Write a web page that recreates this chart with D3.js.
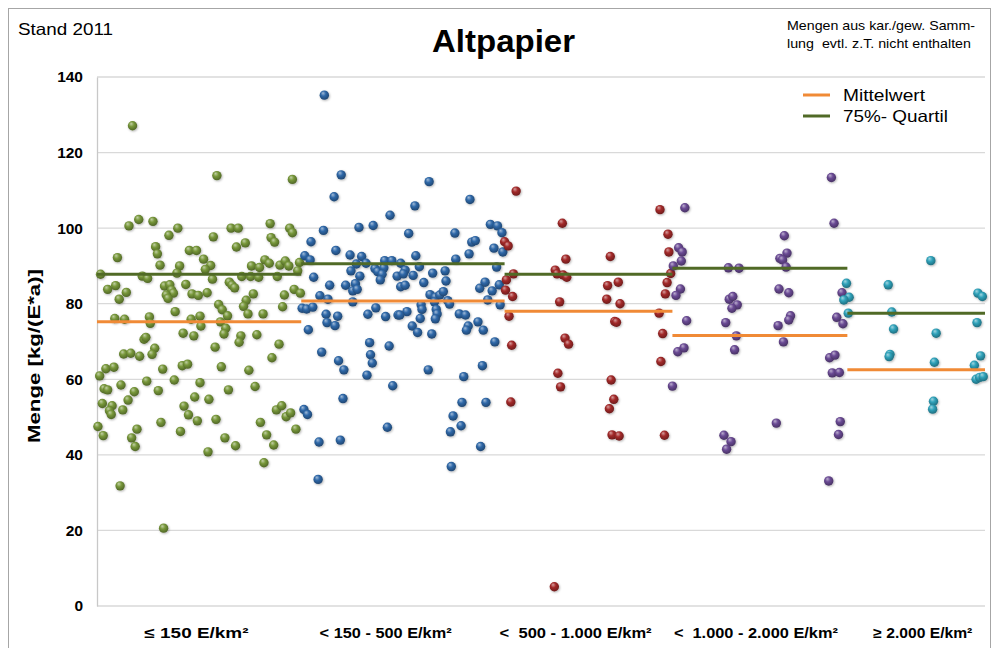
<!DOCTYPE html>
<html>
<head>
<meta charset="utf-8">
<script src="https://cdn.jsdelivr.net/npm/d3@7"></script>
<style>
  html, body { margin: 0; padding: 0; background: #fff; }
  svg { display: block; font-family: "Liberation Sans", Arial, sans-serif; }
  text { white-space: pre; }
</style>
</head>
<body>
<svg id="chart" width="993" height="648"></svg>
<script>
// Density classes (x positions on a 0–100 relative axis)
const classLabels = ["\u2264 150 E/km\u00b2", "< 150 - 500 E/km\u00b2", "<  500 - 1.000 E/km\u00b2", "<  1.000 - 2.000 E/km\u00b2", "\u2265 2.000 E/km\u00b2"];
const classLabelPos = [11.2, 32.5, 53.9, 74.2, 93.0];
const classBounds = [0, 23.0, 45.9, 64.8, 84.5, 100];

// Per-municipality values [position, kg/(E*a)]
const class1 = [
  [4.0,127.1],[3.6,100.6],[4.7,102.3],[6.3,101.8],[8.1,98.1],[9.1,100.0],[2.3,92.2],[6.6,95.1],[6.8,93.2],
  [10.4,94.1],[11.2,94.1],[7.1,90.2],[9.3,90.0],[9.0,88.1],[0.4,87.8],[5.1,87.3],[5.7,86.7],[1.2,83.8],
  [2.1,84.8],[3.3,83.0],[2.5,81.2],[7.6,84.7],[8.2,85.0],[8.4,83.6],[8.6,82.8],[7.8,82.3],[8.0,81.4],
  [10.0,85.1],[10.7,82.6],[11.4,82.2],[2.0,76.1],[3.1,75.9],[5.9,76.5],[6.0,74.8],[8.8,77.9],[10.6,75.9],
  [11.6,76.7],[11.7,74.1],[9.7,72.2],[10.9,71.5],[5.3,70.6],[5.5,71.1],[6.5,68.2],[6.2,66.6],[3.0,66.7],
  [3.8,66.9],[4.8,66.1],[1.0,62.8],[1.9,63.2],[0.3,60.9],[7.4,62.7],[9.6,63.6],[10.2,64.0],[5.6,59.5],
  [8.7,59.8],[11.6,59.1],[0.8,57.5],[1.2,57.2],[2.7,58.5],[4.2,56.7],[6.9,57.0],[11.0,55.3],[0.6,53.6],
  [1.7,53.0],[3.5,54.5],[1.4,51.7],[1.6,50.7],[2.9,51.9],[9.8,52.9],[10.3,50.6],[11.3,49.0],[0.1,47.5],
  [0.7,45.1],[4.5,46.8],[3.9,44.5],[4.3,42.2],[7.2,48.6],[9.4,46.2],[2.6,31.8],[7.5,20.6],
  [13.5,113.9],[22.0,112.9],[15.1,100.0],[15.9,100.0],[19.5,101.2],[21.7,100.0],[22.0,98.8],[13.1,97.7],
  [19.6,97.5],[20.0,96.3],[15.7,95.0],[16.7,96.1],[12.0,91.8],[12.8,90.1],[12.2,89.1],[18.9,91.6],
  [19.4,90.7],[17.4,90.0],[18.3,89.6],[20.6,90.2],[21.2,91.3],[21.6,90.0],[22.8,90.9],[22.6,88.7],
  [16.3,87.2],[17.3,87.2],[18.2,87.0],[20.3,87.2],[13.0,86.5],[14.9,85.7],[15.2,84.9],[15.5,84.2],
  [12.4,82.9],[17.6,82.6],[21.1,82.3],[22.2,83.8],[22.9,82.8],[13.7,79.8],[14.1,78.4],[14.7,76.8],
  [16.8,80.9],[16.5,79.3],[17.0,77.3],[20.9,79.2],[18.7,77.3],[13.9,75.2],[14.5,73.5],[14.3,72.0],
  [16.2,71.5],[16.0,69.8],[18.0,71.8],[13.3,68.5],[20.5,69.3],[19.7,65.7],[14.0,63.3],[17.1,62.4],
  [14.8,57.2],[17.8,58.1],[12.6,54.7],[20.2,51.9],[20.8,53.0],[21.3,50.1],[21.8,51.1],[22.4,46.8],
  [13.4,49.4],[18.4,48.6],[14.4,44.5],[15.6,42.4],[19.1,45.3],[19.9,42.6],[12.5,40.8],[18.8,37.9]
];
const class2 = [
  [25.6,135.2],[27.5,114.1],[26.7,108.3],[33.0,103.4],[25.5,99.4],[29.5,100.2],[31.1,100.7],[24.1,96.4],
  [23.4,92.7],[24.0,91.6],[26.9,94.1],[28.5,92.9],[29.8,92.5],[30.3,90.7],[29.2,90.5],[28.6,88.7],
  [29.6,87.3],[24.4,87.0],[26.2,84.9],[28.0,84.9],[29.1,85.3],[28.8,83.4],[29.3,83.8],[31.3,89.3],
  [31.6,88.5],[32.3,89.5],[32.1,87.8],[31.9,86.3],[32.4,91.4],[33.2,91.4],[34.2,90.7],[33.8,87.3],
  [34.2,84.5],[34.7,88.9],[34.7,84.9],[25.1,82.1],[26.0,81.2],[28.8,80.5],[23.1,78.8],[23.6,78.6],
  [24.3,79.1],[25.8,77.2],[27.1,76.7],[30.5,77.2],[31.4,78.9],[32.5,76.6],[33.9,77.0],[25.9,75.0],
  [26.8,74.2],[23.8,73.1],[25.3,67.2],[27.2,64.9],[27.8,62.5],[30.7,69.7],[30.8,66.5],[31.0,64.3],
  [30.4,61.1],[32.9,68.8],[33.3,58.3],[27.7,54.9],[23.3,52.0],[23.7,50.7],[32.7,47.3],[25.0,43.4],
  [27.4,43.9],[24.9,33.5],
  [37.4,112.3],[35.8,105.9],[42.0,107.6],[35.1,98.6],[40.3,98.7],[44.3,101.0],[45.1,100.6],[45.6,98.8],
  [42.2,96.3],[42.6,96.7],[44.7,94.7],[45.7,93.7],[41.9,93.2],[35.9,92.7],[40.4,91.8],[36.3,89.8],
  [45.0,89.7],[34.5,87.9],[35.6,87.5],[37.8,88.1],[39.2,88.7],[39.3,86.0],[36.8,85.6],[37.5,82.4],
  [38.1,81.7],[38.6,82.3],[39.0,83.2],[38.0,80.5],[39.5,80.8],[39.7,79.9],[43.1,84.1],[43.7,85.7],
  [44.5,83.4],[45.3,85.0],[44.0,81.0],[45.4,79.7],[34.9,77.9],[34.1,77.0],[36.5,79.7],[36.6,78.5],
  [38.2,78.5],[38.3,77.3],[36.4,76.1],[38.1,76.0],[40.8,77.3],[41.5,77.0],[35.5,74.1],[36.1,72.4],
  [37.7,72.0],[41.8,74.1],[41.6,73.0],[42.9,75.2],[43.5,73.0],[44.8,69.9],[37.3,62.5],[43.4,63.6],
  [41.3,60.7],[41.1,53.9],[43.8,53.9],[40.1,50.3],[41.0,47.7],[39.8,46.1],[43.2,42.2],[39.9,36.9]
];
const class3 = [
  [47.2,109.8],[63.4,104.9],[52.4,101.3],[64.3,98.4],[45.9,96.4],[46.3,95.3],[46.1,86.3],[46.9,87.9],
  [46.0,83.6],[46.8,81.9],[46.4,76.7],[52.8,91.8],[57.8,92.5],[64.4,93.7],[51.6,88.9],[51.8,87.9],
  [52.5,87.6],[52.9,87.0],[64.6,88.0],[57.5,84.8],[58.7,85.7],[64.2,85.6],[64.0,82.6],[52.1,80.5],
  [57.4,81.2],[58.9,80.0],[63.3,77.5],[58.3,75.3],[58.5,75.1],[63.7,72.1],[52.7,70.9],[53.1,69.3],
  [46.7,69.0],[63.5,64.7],[51.9,61.6],[52.2,58.0],[57.9,59.8],[46.6,54.0],[58.2,54.7],[57.7,52.2],
  [58.0,45.3],[58.8,45.0],[63.9,45.2],[51.5,5.1]
];
const class4 = [
  [66.2,105.4],[82.7,113.4],[83.0,101.3],[77.4,98.0],[65.5,94.8],[65.9,93.7],[77.7,93.4],[76.9,92.0],
  [77.2,91.6],[65.8,91.3],[64.9,90.0],[71.1,89.5],[72.3,89.4],[77.6,89.7],[65.7,83.9],[65.2,82.2],
  [76.8,83.9],[77.9,82.9],[71.2,81.2],[71.6,81.9],[72.1,79.7],[71.5,78.8],[83.9,82.9],[84.0,74.7],
  [83.3,76.4],[66.4,75.5],[70.8,75.0],[78.1,76.8],[77.9,75.7],[76.7,74.2],[72.0,71.5],[77.3,69.9],
  [65.4,67.3],[66.1,68.3],[71.8,67.8],[82.5,65.7],[83.1,66.4],[82.8,61.7],[83.6,61.8],[64.8,58.2],
  [76.5,48.4],[83.7,48.8],[83.5,45.4],[70.6,45.2],[71.4,43.5],[70.9,41.5],[82.4,33.1]
];
const class5 = [
  [93.9,91.4],[89.1,85.0],[84.4,85.4],[84.7,81.7],[84.1,81.0],[99.2,82.8],[99.7,81.9],[84.6,77.5],
  [89.5,77.8],[89.7,73.3],[94.5,72.2],[99.1,75.0],[89.3,66.6],[89.2,66.0],[94.3,64.5],[99.5,66.2],
  [98.8,63.7],[99.0,60.0],[99.4,60.5],[99.8,60.7],[94.2,54.2],[94.1,52.1]
];

// Class statistics
const meanValues = [75.2, 80.7, 78.0, 71.6, 62.5];
const quartile75Values = [87.8, 90.6, 87.8, 89.4, 77.5];

const yTicks = [0, 20, 40, 60, 80, 100, 120, 140];
const classColors = ["#77973a", "#2f68a8", "#a32a2a", "#6a4a94", "#2fa2ba"];
const meanColor = "#f08a36";
const quartileColor = "#506a26";

const svg = d3.select("#chart");
const plot = { left: 97, right: 985, top: 77, bottom: 606 };

const x = d3.scaleLinear().domain([0, 100]).range([plot.left, plot.right]);
const y = d3.scaleLinear().domain([0, 140]).range([plot.bottom, plot.top]);

// Outer frame
svg.append("rect")
  .attr("x", 8.5).attr("y", 8.5).attr("width", 982).attr("height", 650)
  .attr("fill", "#fff").attr("stroke", "#a6a6a6").attr("stroke-width", 1);

// Sphere-like gradients for markers
const defs = svg.append("defs");
classColors.forEach((c, i) => {
  const g = defs.append("radialGradient").attr("id", "ball" + i)
    .attr("cx", "45%").attr("cy", "40%").attr("r", "60%").attr("fx", "35%").attr("fy", "28%");
  g.append("stop").attr("offset", "0%").attr("stop-color", d3.interpolateRgb(c, "#fff")(0.55));
  g.append("stop").attr("offset", "45%").attr("stop-color", c);
  g.append("stop").attr("offset", "100%").attr("stop-color", d3.color(c).darker(1.1));
});
const shadow = defs.append("filter").attr("id", "shadow").attr("x", "-50%").attr("y", "-50%").attr("width", "200%").attr("height", "200%");
shadow.append("feDropShadow").attr("dx", 0.8).attr("dy", 1).attr("stdDeviation", 0.8).attr("flood-color", "#000").attr("flood-opacity", 0.3);

// Gridlines
svg.append("g").selectAll("line").data(yTicks).join("line")
  .attr("x1", plot.left).attr("x2", plot.right)
  .attr("y1", d => y(d)).attr("y2", d => y(d))
  .attr("stroke", "#d9d9d9").attr("stroke-width", 1.3);

// Y axis
const yAxis = d3.axisLeft(y).tickValues(yTicks).tickSize(0).tickPadding(14);
const ya = svg.append("g").attr("transform", `translate(${plot.left},0)`).call(yAxis);
ya.select(".domain").attr("stroke", "#c8c8c8").attr("stroke-width", 1.3);
ya.selectAll("text").attr("font-size", 15.5).attr("font-weight", "bold").attr("fill", "#000")
  .attr("font-family", "Liberation Sans, Arial, sans-serif");

// Y axis title
svg.append("text")
  .attr("transform", `translate(40,356) rotate(-90)`)
  .attr("text-anchor", "middle")
  .attr("font-size", 16).attr("font-weight", "bold")
  .attr("textLength", 174).attr("lengthAdjust", "spacingAndGlyphs")
  .text("Menge [kg/(E*a)]");

// Class labels
const classLabelWidths = [104, 132, 152, 164, 99];
svg.append("g").selectAll("text").data(classLabels).join("text")
  .attr("x", (d, i) => x(classLabelPos[i]))
  .attr("y", 638)
  .attr("text-anchor", "middle")
  .attr("font-size", 14.5).attr("font-weight", "bold")
  .attr("textLength", (d, i) => classLabelWidths[i]).attr("lengthAdjust", "spacingAndGlyphs")
  .text(d => d);

// Points
const classes = [class1, class2, class3, class4, class5];
classes.forEach((pts, i) => {
  svg.append("g").attr("filter", "url(#shadow)").selectAll("circle").data(pts).join("circle")
    .attr("cx", d => x(d[0])).attr("cy", d => y(d[1]))
    .attr("r", 4.7)
    .attr("fill", `url(#ball${i})`);
});

// Mean and 75% quartile lines per class
const lineData = meanValues.map((m, i) => ({ i, m, q: quartile75Values[i] }));
svg.append("g").selectAll("line").data(lineData).join("line")
  .attr("x1", d => x(classBounds[d.i])).attr("x2", d => x(classBounds[d.i + 1]))
  .attr("y1", d => y(d.q)).attr("y2", d => y(d.q))
  .attr("stroke", quartileColor).attr("stroke-width", 3);
svg.append("g").selectAll("line").data(lineData).join("line")
  .attr("x1", d => x(classBounds[d.i])).attr("x2", d => x(classBounds[d.i + 1]))
  .attr("y1", d => y(d.m)).attr("y2", d => y(d.m))
  .attr("stroke", meanColor).attr("stroke-width", 3);

// Title and notes
svg.append("text").attr("x", 503.5).attr("y", 52).attr("text-anchor", "middle")
  .attr("font-size", 31).attr("font-weight", "bold")
  .attr("textLength", 143).attr("lengthAdjust", "spacingAndGlyphs")
  .text("Altpapier");
svg.append("text").attr("x", 18).attr("y", 35).attr("font-size", 16.5)
  .attr("textLength", 95).attr("lengthAdjust", "spacingAndGlyphs")
  .text("Stand 2011");
svg.append("text").attr("x", 787).attr("y", 30).attr("font-size", 13.5)
  .attr("textLength", 188).attr("lengthAdjust", "spacingAndGlyphs")
  .text("Mengen aus kar./gew. Samm-");
svg.append("text").attr("x", 787).attr("y", 48).attr("font-size", 13.5)
  .attr("textLength", 184).attr("lengthAdjust", "spacingAndGlyphs")
  .text("lung  evtl. z.T. nicht enthalten");

// Legend
const legend = [
  { label: "Mittelwert", color: meanColor, width: 82 },
  { label: "75%- Quartil", color: quartileColor, width: 105 }
];
const lg = svg.append("g").selectAll("g").data(legend).join("g")
  .attr("transform", (d, i) => `translate(803,${95 + i * 21})`);
lg.append("line").attr("x1", 0).attr("x2", 27).attr("stroke", d => d.color).attr("stroke-width", 3);
lg.append("text").attr("x", 40).attr("y", 6).attr("font-size", 16.5)
  .attr("textLength", d => d.width).attr("lengthAdjust", "spacingAndGlyphs")
  .text(d => d.label);
</script>
</body>
</html>
